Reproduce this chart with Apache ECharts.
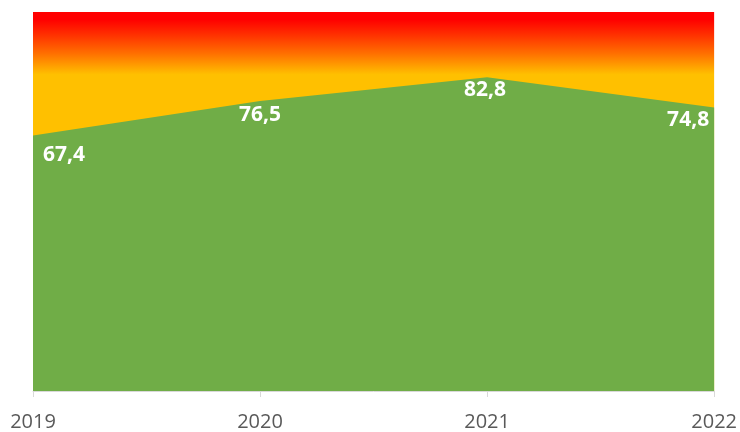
<!DOCTYPE html>
<html>
<head>
<meta charset="utf-8">
<script src="https://cdn.jsdelivr.net/npm/echarts@6/dist/echarts.min.js"></script>
<style>
html,body{margin:0;padding:0;background:#fff;}
#c{width:740px;height:432px;}
</style>
</head>
<body>
<div id="c"></div>
<script>
var categories = ['2019', '2020', '2021', '2022'];
var values = [67.4, 76.5, 82.8, 74.8];
var labelOffsets = [[31, 3], [0, -3], [-2, -4], [-26, -4]];

var chart = echarts.init(document.getElementById('c'));
var data = values.map(function (v, i) {
  return { value: v, label: { offset: labelOffsets[i] } };
});
chart.setOption({
  animation: false,
  grid: {
    left: 33, right: 25, top: 12, bottom: 41,
    show: true, borderWidth: 0,
    backgroundColor: new echarts.graphic.LinearGradient(0, 0, 0, 1, [
      { offset: 0, color: '#FF0000' },
      { offset: 0.02, color: '#FF0000' },
      { offset: 0.06, color: '#FF3000' },
      { offset: 0.11, color: '#FF7000' },
      { offset: 0.165, color: '#FFC000' },
      { offset: 1, color: '#FFC000' }
    ])
  },
  xAxis: {
    type: 'category',
    data: categories,
    boundaryGap: false,
    axisLine: { show: true, lineStyle: { color: '#D9D9D9', width: 1 } },
    axisTick: { show: true, length: 6, lineStyle: { color: '#D9D9D9' } },
    axisLabel: { color: '#595959', fontSize: 20, fontFamily: 'Open Sans', margin: 21 }
  },
  yAxis: {
    type: 'value', min: 0, max: 100, show: false,
    splitLine: { show: false }
  },
  series: [{
    type: 'line',
    data: data,
    symbol: 'circle',
    symbolSize: 2,
    showSymbol: true,
    lineStyle: { width: 0, color: '#70AD47' },
    itemStyle: { color: 'rgba(112,173,71,0)', borderWidth: 0 },
    areaStyle: { color: '#70AD47', opacity: 1 },
    label: {
      show: true,
      position: 'bottom',
      distance: 5,
      color: '#FFFFFF',
      fontSize: 21,
      fontWeight: 'bold',
      fontFamily: 'Open Sans',
      formatter: function (p) { return String(p.value).replace('.', ','); }
    }
  }]
});
</script>
</body>
</html>
